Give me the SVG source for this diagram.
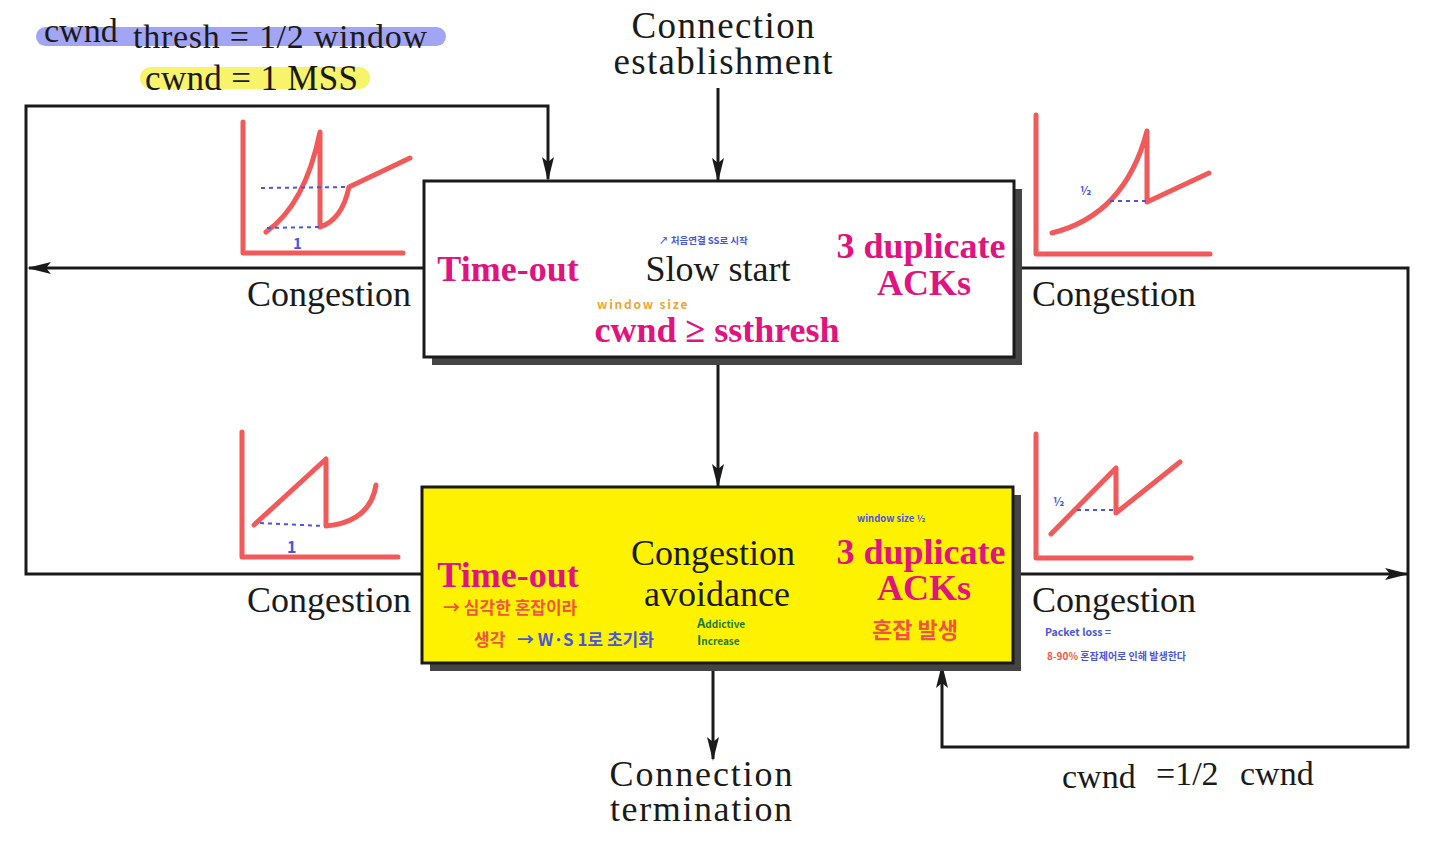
<svg xmlns="http://www.w3.org/2000/svg" width="1440" height="841" viewBox="0 0 1440 841">
<defs>
<marker id="ah" markerWidth="24" markerHeight="12" refX="22" refY="6" viewBox="0 0 24 12" markerUnits="userSpaceOnUse" orient="auto">
<path d="M0,0 L24,6 L0,12 L5,6 Z" fill="#1a1a1a"/>
</marker>
<style>
.serif{font-family:"Liberation Serif","Times New Roman",serif;fill:#1a1a1a}
.mag{font-family:"Liberation Serif","Times New Roman",serif;font-weight:bold;fill:#E0147E}
.hand{font-family:"Noto Sans CJK KR","Noto Sans",sans-serif;font-weight:700}
.conn{fill:none;stroke:#1a1a1a;stroke-width:3}
.g{fill:none;stroke:#F05A5A;stroke-width:5;stroke-linecap:round;stroke-linejoin:round}
.dot{fill:none;stroke:#4A55E0;stroke-width:2;stroke-dasharray:4 4}
.blue{fill:#4A55E0}
</style>
</defs>
<rect width="1440" height="841" fill="#ffffff"/>

<g id="notes-top">
<rect x="36" y="27" width="410" height="19" rx="9.5" fill="#A2A4F4"/>
<rect x="140" y="67" width="230" height="22" rx="11" fill="#F7F36A"/>
<text class="serif" x="44" y="42" font-size="34">cwnd</text>
<text class="serif" x="133" y="48" font-size="34" textLength="294">thresh = 1/2 window</text>
<text class="serif" x="145" y="90" font-size="35" textLength="213">cwnd = 1 MSS</text>
</g>

<g id="connectors">
<line class="conn" x1="718" y1="88" x2="718" y2="180" marker-end="url(#ah)"/>
<polyline class="conn" points="422,574 26,574 26,106 548,106 548,179" marker-end="url(#ah)"/>
<line class="conn" x1="424" y1="268" x2="29" y2="268" marker-end="url(#ah)"/>
<polyline class="conn" points="1014,268 1408,268 1408,747 942,747 942,666" marker-end="url(#ah)"/>
<line class="conn" x1="1013" y1="574" x2="1407" y2="574" marker-end="url(#ah)"/>
<line class="conn" x1="718" y1="357" x2="718" y2="486" marker-end="url(#ah)"/>
<line class="conn" x1="713" y1="671" x2="713" y2="759" marker-end="url(#ah)"/>
</g>

<g id="label-establishment">
<text class="serif" x="723" y="38" font-size="37" text-anchor="middle" textLength="183">Connection</text>
<text class="serif" x="723" y="74" font-size="37" text-anchor="middle" textLength="219">establishment</text>
</g>
<g id="label-termination">
<text class="serif" x="701" y="786" font-size="36" text-anchor="middle" textLength="183">Connection</text>
<text class="serif" x="701" y="821" font-size="36" text-anchor="middle" textLength="182">termination</text>
</g>
<g id="label-congestion">
<text class="serif" x="329" y="306" font-size="36" text-anchor="middle">Congestion</text>
<text class="serif" x="1114" y="306" font-size="36" text-anchor="middle">Congestion</text>
<text class="serif" x="329" y="612" font-size="36" text-anchor="middle">Congestion</text>
<text class="serif" x="1114" y="612" font-size="36" text-anchor="middle">Congestion</text>
</g>
<g id="label-halfcwnd">
<text class="serif" x="1062" y="788" font-size="34">cwnd</text>
<text class="serif" x="1156" y="785" font-size="34">=1/2</text>
<text class="serif" x="1240" y="785" font-size="34">cwnd</text>
</g>

<g id="node-slowstart">
<rect x="432" y="189" width="590" height="176" fill="#444"/>
<rect x="424" y="181" width="590" height="176" fill="#ffffff" stroke="#1a1a1a" stroke-width="3"/>
<text class="mag" x="508" y="281" font-size="36" text-anchor="middle">Time-out</text>
<text class="serif" x="718" y="281" font-size="36" text-anchor="middle">Slow start</text>
<text class="mag" x="921" y="258" font-size="36" text-anchor="middle">3 duplicate</text>
<text class="mag" x="924" y="295" font-size="36" text-anchor="middle">ACKs</text>
<text class="mag" x="717" y="342" font-size="36" text-anchor="middle">cwnd ≥ ssthresh</text>
<text class="hand" x="597" y="309" font-size="12" fill="#E8A735" letter-spacing="1.8">window size</text>
<text class="hand" x="659" y="244" font-size="9.5" fill="#4A55E0">↗ 처음연결 SS로 시작</text>
</g>

<g id="node-avoidance">
<rect x="430" y="495" width="591" height="176" fill="#444"/>
<rect x="422" y="487" width="591" height="176" fill="#FFF200" stroke="#1a1a1a" stroke-width="3"/>
<text class="mag" x="508" y="587" font-size="36" text-anchor="middle">Time-out</text>
<text class="serif" x="713" y="565" font-size="36" text-anchor="middle">Congestion</text>
<text class="serif" x="717" y="606" font-size="36" text-anchor="middle">avoidance</text>
<text class="mag" x="921" y="564" font-size="36" text-anchor="middle">3 duplicate</text>
<text class="mag" x="924" y="600" font-size="36" text-anchor="middle">ACKs</text>
<text class="hand" x="857" y="522" font-size="9.5" fill="#4A55E0">window size ½</text>
<text class="hand" x="872" y="638" font-size="22" fill="#F0553F">혼잡 발생</text>
<text class="hand" x="443" y="614" font-size="17" fill="#F0553F">→ 심각한 혼잡이라</text>
<text class="hand" x="474" y="646" font-size="17" fill="#F0553F">생각</text>
<text class="hand" x="517" y="646" font-size="17" fill="#4A55E0">→ W·S  1로 초기화</text>
<text class="hand" x="697" y="628" font-size="10" fill="#1F7A3A"><tspan font-size="13">A</tspan>ddictive</text>
<text class="hand" x="697" y="645" font-size="10" fill="#1F7A3A"><tspan font-size="13">I</tspan>ncrease</text>
</g>

<g id="note-packetloss">
<text class="hand" x="1045" y="636" font-size="10.5" fill="#4A55E0">Packet loss =</text>
<text class="hand" x="1047" y="660" font-size="10" fill="#F0553F">8-90% <tspan fill="#4A55E0">혼잡제어로 인해 발생한다</tspan></text>
</g>

<g id="graph-1">
<polyline class="g" points="243,122 243,253 403,253"/>
<path class="g" d="M266,232 Q305,205 320,132 L320,227 Q342,220 349,187 L410,158"/>
<line class="dot" x1="261" y1="188" x2="349" y2="187"/>
<line class="dot" x1="267" y1="228" x2="319" y2="227"/>
<text class="hand blue" x="293" y="249" font-size="15">1</text>
</g>
<g id="graph-2">
<polyline class="g" points="1036,115 1036,254 1210,254"/>
<path class="g" d="M1052,233 Q1125,215 1147,131 L1147,202 L1209,173"/>
<line class="dot" x1="1110" y1="201" x2="1147" y2="201"/>
<text class="hand blue" x="1080" y="195" font-size="12">½</text>
</g>
<g id="graph-3">
<polyline class="g" points="242,432 242,557 398,557"/>
<path class="g" d="M254,525 L326,459 L326,526 Q370,522 376,485"/>
<line class="dot" x1="260" y1="523" x2="323" y2="526"/>
<text class="hand blue" x="287" y="553" font-size="16">1</text>
</g>
<g id="graph-4">
<polyline class="g" points="1036,434 1036,558 1191,558"/>
<path class="g" d="M1051,534 L1116,468 L1116,513 L1180,462"/>
<line class="dot" x1="1077" y1="510" x2="1113" y2="510"/>
<text class="hand blue" x="1053" y="506" font-size="12">½</text>
</g>
</svg>
